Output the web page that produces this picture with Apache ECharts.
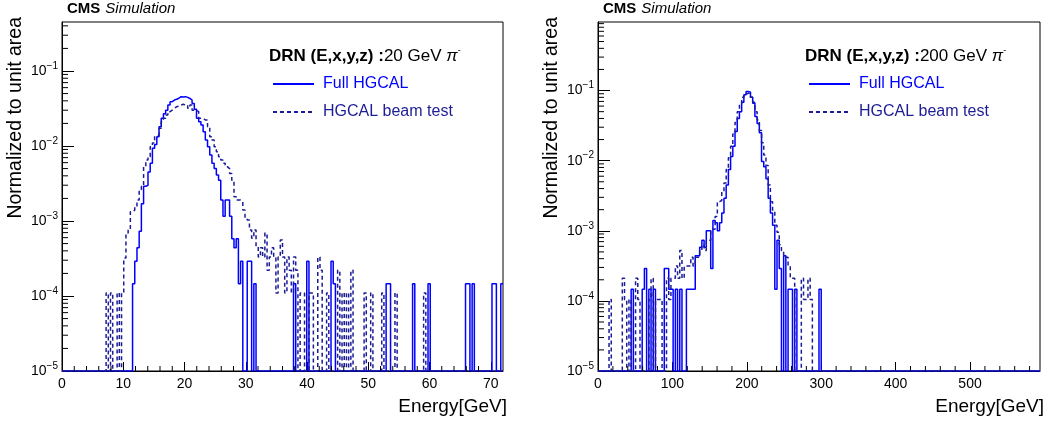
<!DOCTYPE html>
<html><head><meta charset="utf-8">
<script src="https://cdn.jsdelivr.net/npm/echarts@6/dist/echarts.min.js"></script>
<style>html,body{margin:0;padding:0;background:#fff}#c{width:1048px;height:425px}</style>
</head><body><div id="c"></div>
<script>
// ---------------- data ----------------
const panelLabels = ['20 GeV ', '200 GeV '];
const seriesNames = ['Full HGCAL', 'HGCAL beam test'];

// left panel: 20 GeV pi-, 200 bins over 0..72 GeV
const leftXMax = 72;
const leftBinWidth = 0.36;
const leftNBins = 200;
const leftYMax = 0.45;
const leftXLabels = [0, 10, 20, 30, 40, 50, 60, 70];
// [bin index, normalized content] for non-empty bins
const leftFull = [[32,1.46e-4],[33,2.9e-4],[34,4.4e-4],[35,7.3e-4],[36,1.7e-3],[37,2.9e-3],[38,3.0e-3],[39,4.5e-3],[40,5.9e-3],[41,9.3e-3],[42,0.0105],[43,0.0133],[44,0.018],[45,0.0234],[46,0.027],[47,0.030],[48,0.0352],[49,0.039],[50,0.041],[51,0.042],[52,0.0433],[53,0.0455],[54,0.045],[55,0.0455],[56,0.0445],[57,0.043],[58,0.041],[59,0.037],[60,0.031],[61,0.0234],[62,0.021],[63,0.019],[64,0.0155],[65,0.012],[66,0.0098],[67,0.0076],[68,0.0059],[69,0.0050],[70,0.0041],[71,0.0035],[72,0.0019],[73,0.00116],[74,0.0019],[75,0.0019],[76,0.00116],[77,5.8e-4],[78,4.4e-4],[79,5.8e-4],[80,1.46e-4],[81,2.9e-4],[84,2.9e-4],[85,2.9e-4],[87,1.46e-4],[105,1.46e-4],[111,2.9e-4],[122,2.9e-4],[123,1.46e-4],[147,1.46e-4],[148,1.46e-4],[159,1.46e-4],[166,1.46e-4],[183,1.46e-4],[184,1.46e-4],[186,1.46e-4],[195,1.46e-4],[196,1.46e-4],[199,1.46e-4]];
const leftTest = [[20,1.1e-4],[22,1.1e-4],[25,1.1e-4],[27,1.1e-4],[28,3.2e-4],[29,6.9e-4],[30,7.6e-4],[31,1.33e-3],[32,1.4e-3],[33,1.55e-3],[34,1.9e-3],[35,2.6e-3],[36,2.9e-3],[37,5.3e-3],[38,6.5e-3],[39,7.2e-3],[40,9.8e-3],[41,0.011],[42,0.0133],[43,0.014],[44,0.0172],[45,0.0211],[46,0.0234],[47,0.0259],[48,0.0287],[49,0.030],[50,0.0318],[51,0.0334],[52,0.034],[53,0.0352],[54,0.036],[55,0.0352],[56,0.0352],[57,0.0318],[58,0.0352],[59,0.030],[60,0.030],[61,0.0287],[62,0.0234],[63,0.0234],[64,0.0222],[65,0.0222],[66,0.0181],[67,0.0133],[68,0.012],[69,0.0098],[70,0.0084],[71,0.0072],[72,0.0065],[73,0.0059],[74,0.0053],[75,0.0050],[76,0.0043],[77,0.0035],[78,0.0021],[79,0.0019],[80,0.0019],[81,0.0018],[82,0.0014],[83,0.0011],[84,0.00103],[85,7.6e-4],[86,5.9e-4],[87,7.6e-4],[88,4.5e-4],[89,3.3e-4],[90,4.4e-4],[91,3.3e-4],[92,6.9e-4],[93,2.2e-4],[94,3.3e-4],[95,4.4e-4],[96,3.3e-4],[97,1.1e-4],[98,3.3e-4],[99,5.6e-4],[100,3.3e-4],[101,1.1e-4],[102,3.3e-4],[103,2.2e-4],[104,1.1e-4],[105,3.3e-4],[106,2.2e-4],[108,1.1e-4],[109,1.1e-4],[112,1.1e-4],[113,1.1e-4],[116,3.3e-4],[117,2.2e-4],[120,1.1e-4],[125,2.2e-4],[127,1.1e-4],[129,1.1e-4],[131,2.2e-4],[137,1.1e-4],[140,1.1e-4],[145,1.1e-4],[151,1.1e-4],[164,1.1e-4]];

// right panel: 200 GeV pi-, 200 bins over 0..594 GeV
const rightXMax = 594;
const rightBinWidth = 2.97;
const rightNBins = 200;
const rightYMax = 0.95;
const rightXLabels = [0, 100, 200, 300, 400, 500];
const rightFull = [[15,1.46e-4],[20,1.46e-4],[21,2.9e-4],[23,1.46e-4],[25,1.46e-4],[30,2.9e-4],[31,2.9e-4],[32,1.46e-4],[33,1.46e-4],[35,1.46e-4],[37,1.46e-4],[40,1.46e-4],[41,1.46e-4],[42,1.46e-4],[43,1.46e-4],[44,4.4e-4],[45,4.4e-4],[46,5.8e-4],[47,7.3e-4],[48,5.8e-4],[49,1.0e-3],[50,1.0e-3],[51,2.9e-4],[52,1.4e-3],[53,1.3e-3],[54,1.0e-3],[55,1.3e-3],[56,1.8e-3],[57,2.9e-3],[58,4.5e-3],[59,7.5e-3],[60,0.0115],[61,0.016],[62,0.026],[63,0.04],[64,0.05],[65,0.068],[66,0.087],[67,0.0967],[68,0.095],[69,0.08],[70,0.066],[71,0.0425],[72,0.034],[73,0.025],[74,0.0097],[75,0.0082],[76,0.0055],[77,0.0029],[78,0.0018],[79,0.0012],[80,1.46e-4],[81,7.3e-4],[82,2.9e-4],[84,4.4e-4],[86,1.46e-4],[87,1.46e-4],[89,1.46e-4],[100,1.46e-4]];
const rightTest = [[5,1.05e-4],[11,2.1e-4],[12,1.05e-4],[14,1.05e-4],[17,2.1e-4],[18,1.05e-4],[23,1.05e-4],[24,2.1e-4],[26,1.05e-4],[27,1.05e-4],[28,1.05e-4],[31,2.1e-4],[32,1.05e-4],[33,2.1e-4],[34,2.1e-4],[35,3.15e-4],[36,2.1e-4],[37,5.25e-4],[38,2.1e-4],[39,3.15e-4],[40,3.15e-4],[41,3.15e-4],[42,4.2e-4],[43,3.15e-4],[44,4.2e-4],[45,4.2e-4],[46,5.25e-4],[47,6.3e-4],[48,5.25e-4],[49,7.3e-4],[50,7.3e-4],[51,1.05e-3],[52,1.05e-3],[53,1.6e-3],[54,2.6e-3],[55,2.7e-3],[56,3.6e-3],[57,4.8e-3],[58,7.5e-3],[59,0.011],[60,0.016],[61,0.024],[62,0.035],[63,0.05],[64,0.065],[65,0.08],[66,0.088],[67,0.092],[68,0.09],[69,0.08],[70,0.068],[71,0.05],[72,0.038],[73,0.027],[74,0.018],[75,0.012],[76,0.0085],[77,0.0045],[78,0.0026],[79,0.0019],[80,0.0012],[81,9.5e-4],[82,6.3e-4],[83,5.25e-4],[84,4.2e-4],[85,4.2e-4],[86,3.15e-4],[87,2.1e-4],[88,2.1e-4],[92,2.1e-4],[93,1.05e-4],[94,1.05e-4],[95,2.1e-4],[96,1.05e-4]];

const yMin = 1e-5;

// ---------------- style ----------------
const FONT = "'Liberation Sans', Arial, Helvetica, sans-serif";
const BLUE = '#0000ff';
const NAVY = '#1c1c96';

// ---------------- helpers ----------------
function histPoints(pairs, w, n) {
  const vals = new Array(n).fill(0);
  pairs.forEach(p => { vals[p[0]] = p[1]; });
  const pts = [];
  for (let i = 0; i < n; i++) {
    const v = vals[i] > 0 ? vals[i] : yMin;
    pts.push([i * w, v], [(i + 1) * w, v]);
  }
  return pts;
}
function minorYValues(max) {
  const out = [];
  for (let e = -5; e <= 0; e++) for (let k = 2; k <= 9; k++) {
    const v = k * Math.pow(10, e);
    if (v < max) out.push([0, v]);
  }
  return out;
}
function minorXValues(max, step, major) {
  const out = [];
  for (let x = step; x < max; x += step) {
    if (Math.abs(x / major - Math.round(x / major)) > 1e-6) out.push([x, yMin]);
  }
  return out;
}
function yLabel(v) {
  const e = Math.log10(v);
  const r = Math.round(e);
  if (Math.abs(e - r) > 1e-4) return '';
  return '{b|10}{s|' + (r < 0 ? '\u2212' : '') + Math.abs(r) + '}';
}
const yRich = {
  b: { fontSize: 14, fontFamily: FONT, color: '#000', lineHeight: 20 },
  s: { fontSize: 10, fontFamily: FONT, color: '#000', lineHeight: 12, verticalAlign: 'top' }
};

function makeX(gi, max, labels) {
  return {
    type: 'value', gridIndex: gi, min: 0, max: max, interval: labels[1] - labels[0],
    axisLine: { show: true, lineStyle: { color: '#000', width: 1 } },
    axisTick: { show: true, inside: true, length: 9, lineStyle: { color: '#000' } },
    minorTick: { show: false },
    splitLine: { show: false },
    axisLabel: {
      fontSize: 14, fontFamily: FONT, color: '#000', margin: 6, showMaxLabel: false,
      formatter: v => (labels.indexOf(v) >= 0 ? String(v) : '')
    },
    name: 'Energy[GeV]', nameLocation: 'end', nameGap: 4,
    nameTextStyle: { fontSize: 19, fontFamily: FONT, color: '#000', align: 'right', verticalAlign: 'top', padding: [26, 0, 0, 0] }
  };
}
function makeY(gi, max) {
  return {
    type: 'log', logBase: 10, gridIndex: gi, min: yMin, max: max, splitNumber: 5,
    axisLine: { show: true, lineStyle: { color: '#000', width: 1 } },
    axisTick: { show: true, inside: true, length: 12, lineStyle: { color: '#000' } },
    splitLine: { show: false },
    axisLabel: { margin: 4, formatter: yLabel, rich: yRich, showMaxLabel: false }
  };
}
function histSeries(name, gi, pts, color, dashed) {
  return {
    type: 'line', name: name, xAxisIndex: gi, yAxisIndex: gi, data: pts,
    symbol: 'none', showSymbol: false, animation: false, clip: true, z: 3,
    lineStyle: { color: color, width: 1.5, type: dashed ? [4, 3] : 'solid' },
    itemStyle: { color: color }
  };
}
function minorTickSeries(gi, data, vertical, len) {
  return {
    type: 'custom', xAxisIndex: gi, yAxisIndex: gi, data: data, silent: true, animation: false, z: 4, clip: false,
    renderItem: (params, api) => {
      const p = api.coord([api.value(0), api.value(1)]);
      const shape = vertical ? { x1: p[0], y1: p[1], x2: p[0], y2: p[1] - len }
                             : { x1: p[0], y1: p[1], x2: p[0] + len, y2: p[1] };
      return { type: 'line', shape: shape, style: { stroke: '#000', lineWidth: 1 } };
    }
  };
}
function legendFor(left) {
  return {
    left: left, top: 76, orient: 'vertical', itemWidth: 41, itemHeight: 16, itemGap: 12, padding: 0,
    selectedMode: false,
    itemStyle: { opacity: 0, color: 'transparent', borderColor: 'transparent', borderWidth: 0 },
    textStyle: { fontSize: 16, fontFamily: FONT, padding: [0, 0, 0, 4] },
    data: [
      { name: seriesNames[0], textStyle: { color: BLUE } },
      { name: seriesNames[1], textStyle: { color: NAVY } }
    ]
  };
}
function headerTitle(left, label) {
  return {
    left: left, top: 46, padding: 0,
    text: '{b|DRN (E,x,y,z) :}{n|' + label + '}{p|\u03c0}{s|-}',
    textStyle: {
      fontWeight: 'normal',
      rich: {
        b: { fontSize: 17, fontWeight: 'bold', fontFamily: FONT, color: '#000', lineHeight: 20 },
        n: { fontSize: 17, fontWeight: 'normal', fontFamily: FONT, color: '#000', lineHeight: 20 },
        p: { fontSize: 17, fontWeight: 'normal', fontStyle: 'italic', fontFamily: FONT, color: '#000', lineHeight: 20 },
        s: { fontSize: 9, fontWeight: 'normal', fontFamily: FONT, color: '#000', lineHeight: 10, verticalAlign: 'top' }
      }
    }
  };
}
function cmsTitle(left) {
  return {
    left: left, top: 0, padding: 0, text: '{b|CMS} {i|Simulation}',
    textStyle: {
      fontWeight: 'normal',
      rich: {
        b: { fontSize: 15, fontWeight: 'bold', fontFamily: FONT, color: '#000' },
        i: { fontSize: 15, fontWeight: 'normal', fontStyle: 'italic', fontFamily: FONT, color: '#000' }
      }
    }
  };
}
function yTitle(x) {
  return {
    type: 'text', x: x, y: 17, rotation: Math.PI / 2, silent: true,
    style: { text: 'Normalized to unit area', fontSize: 19.5, fontFamily: FONT, fill: '#000', align: 'right', verticalAlign: 'middle' }
  };
}

const chart = echarts.init(document.getElementById('c'), null, { renderer: 'canvas' });
chart.setOption({
  backgroundColor: '#fff',
  animation: false,
  title: [cmsTitle(67), cmsTitle(603), headerTitle(269, panelLabels[0]), headerTitle(805, panelLabels[1])],
  legend: [legendFor(272), legendFor(808)],
  grid: [
    { left: 62, right: 545, top: 22, bottom: 54, show: true, borderColor: '#000', borderWidth: 1, backgroundColor: 'transparent' },
    { left: 598, right: 8, top: 22, bottom: 54, show: true, borderColor: '#000', borderWidth: 1, backgroundColor: 'transparent' }
  ],
  xAxis: [makeX(0, leftXMax, leftXLabels), makeX(1, rightXMax, rightXLabels)],
  yAxis: [makeY(0, leftYMax), makeY(1, rightYMax)],
  graphic: [yTitle(16), yTitle(552)],
  series: [
    histSeries(seriesNames[0], 0, histPoints(leftFull, leftBinWidth, leftNBins), BLUE, false),
    histSeries(seriesNames[1], 0, histPoints(leftTest, leftBinWidth, leftNBins), NAVY, true),
    histSeries(seriesNames[0], 1, histPoints(rightFull, rightBinWidth, rightNBins), BLUE, false),
    histSeries(seriesNames[1], 1, histPoints(rightTest, rightBinWidth, rightNBins), NAVY, true),
    minorTickSeries(0, minorYValues(leftYMax), false, 6),
    minorTickSeries(1, minorYValues(rightYMax), false, 6),
    minorTickSeries(0, minorXValues(leftXMax, 2, 10), true, 5),
    minorTickSeries(1, minorXValues(rightXMax, 20, 100), true, 5)
  ]
});
</script></body></html>
